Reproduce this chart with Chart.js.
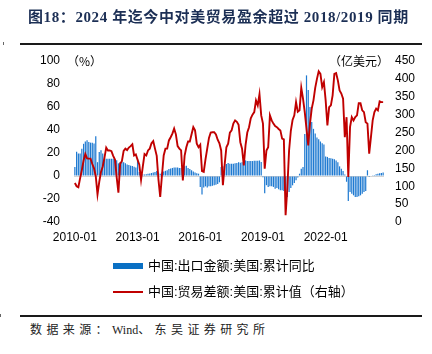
<!DOCTYPE html>
<html><head><meta charset="utf-8">
<script src="https://cdn.jsdelivr.net/npm/chart.js@4.4.1/dist/chart.umd.min.js"></script>
<style>
html,body{margin:0;padding:0;background:#fff;}
#wrap{position:relative;width:432px;height:354px;overflow:hidden;background:#fff;}
.t{position:absolute;white-space:nowrap;line-height:18px;}
#c{position:absolute;left:0;top:0;}
.r{position:absolute;}
.sp{letter-spacing:4.4px;}
</style></head><body>
<div id="wrap">
<canvas id="c" width="432" height="260"></canvas>
<div class="t" style="left:28px;top:8px;font-weight:bold;font-size:15px;font-family:'Liberation Serif','Noto Sans CJK SC';color:#1c2f55;letter-spacing:0.6px;">图18：2024 年迄今中对美贸易盈余超过 2018/2019 同期</div>
<div class="r" style="left:20px;top:43px;width:402px;height:2px;background:#1a1a1a;"></div>
<div class="r" style="left:3px;top:42px;width:1px;height:3px;background:#666;"></div>
<div class="t" style="left:67px;top:52px;font-size:12px;font-family:'Noto Sans CJK SC';color:#000;">（%）</div>
<div class="t" style="left:329px;top:52px;font-size:12px;font-family:'Noto Sans CJK SC';color:#000;">（亿美元）</div>
<div class="r" style="left:113px;top:263px;width:30px;height:6px;background:#0a70c4;"></div>
<div class="t" style="left:148px;top:257px;font-size:13px;font-family:'Liberation Sans','Noto Sans CJK SC';color:#000;">中国:出口金额:美国:累计同比</div>
<div class="r" style="left:113px;top:291px;width:30px;height:2px;background:#c00000;"></div>
<div class="t" style="left:148px;top:283px;font-size:13px;font-family:'Liberation Sans','Noto Sans CJK SC';color:#000;">中国:贸易差额:美国:累计值（右轴）</div>
<div class="r" style="left:20px;top:315px;width:402px;height:2px;background:#1a1a1a;"></div>
<div class="r" style="left:0px;top:314px;width:1px;height:3px;background:#666;"></div>
<div class="t" style="left:30px;top:321px;font-size:12px;font-family:'Liberation Serif','Noto Sans CJK SC';color:#222;"><span class="sp">数据来源：</span>Wind<span class="sp">、东吴证券研究所</span></div>
</div>
<script>
// ---- data ----
const startYear = 2010, endYear = 2024, endMonth = 10;
const categories = [];
for (let y = startYear; y <= endYear; y++) {
  for (let m = 1; m <= 12; m++) {
    if (y === endYear && m > endMonth) break;
    categories.push(y + '-' + String(m).padStart(2, '0'));
  }
}
const xTickLabels = ['2010-01', '2013-01', '2016-01', '2019-01', '2022-01'];
const leftTicks = [-40, -20, 0, 20, 40, 60, 80, 100];
const rightTicks = [0, 50, 100, 150, 200, 250, 300, 350, 400, 450];

// 中国:出口金额:美国:累计同比 (%)
const exportYoY = [
  7.8, 21, 19.5, 19.5, 23.8, 28, 30, 31, 29.6, 29, 29, 28.3,
  34.5, 12, 20.9, 22.3, 19.5, 16, 15, 15, 15, 15, 15, 14.5,
  13.8, 11, 12.2, 12.2, 12, 11, 10, 9.5, 9, 8.6, 8, 7.5,
  15, 3.5, 2, 1.3, 1.3, 1.5, 2, 2.2, 2.6, 3, 3.5, 4.3,
  3, 2, 3, 4, 4.5, 5, 6, 6.5, 7, 7.5, 7.5, 7.5,
  7, 7, 8, 8.5, 9, 7, 6, 5, 4, 3, 2.5, 2,
  -9.5, -16, -10, -9, -10, -9, -9, -8.5, -8, -7.5, -7, -5.5,
  7.8, 8.5, 10, 10.5, 11.3, 10.7, 10.7, 10.7, 11, 11.3, 12, 11.5,
  12, 12.5, 13.6, 13, 13, 13, 13, 13.2, 13.3, 13.3, 13.5, 12.2,
  -1, -15, -8, -9.6, -9, -9, -9.5, -11, -10.5, -11.5, -12.4, -12.4,
  -13, -26.3, -18.2, -13.9, -10.4, -8.1, -6, -3.8, -1.4, 2, 6.4, 7.8,
  36.5, 87.5, 74.7, 60, 47, 41, 37, 33.5, 32, 30, 28.5, 27.5,
  17, 16.6, 15.7, 15.5, 15, 14.5, 13.5, 12, 8.4, 6.4, 4.3, 1.2,
  -5, -21.7, -14, -15.4, -16.8, -18.2, -18.2, -17.5, -16.8, -15.4, -14, -13,
  5, -0.8, -0.5, 0.3, 0.8, 1.5, 2, 2.3, 2.6, 3
];
// 中国:贸易差额:美国:累计值 (亿美元, 右轴)
const tradeBalance = [
  109, 100, 97, 122, 145, 172, 190, 178, 177, 177, 162, 150,
  128, 77, 112, 140, 155, 180, 208, 200, 200, 198, 185, 175,
  125, 82, 163, 170, 199, 205, 201, 208, 212, 217, 186, 189,
  174, 160, 118, 155, 190, 186, 200, 205, 220, 226, 205, 185,
  118, 70, 130, 186, 205, 205, 228, 237, 247, 261, 245, 212,
  205, 200, 116, 185, 209, 225, 225, 245, 265, 256, 219, 209,
  216, 142, 140, 175, 205, 235, 250, 251, 251, 245, 230, 220,
  200, 103, 160, 209, 219, 250, 256, 275, 284, 280, 272, 223,
  205, 158, 215, 250, 265, 290, 300, 307, 340, 326, 357, 298,
  275, 149, 200, 209, 298, 284, 275, 268, 265, 260, 256, 233,
  231, 19, 95, 200, 255, 285, 298, 335, 308, 312, 375, 345,
  307, 261, 214, 275, 317, 340, 375, 400, 421, 414, 377, 391,
  340, 270, 321, 326, 354, 414, 416, 396, 368, 359, 345, 237,
  293, 126, 265, 293, 284, 293, 298, 332, 332, 312, 307, 279,
  275, 191, 237, 284, 307, 317, 312, 337, 335, 335
];

const tickFont = { family: "'Liberation Sans', Arial, sans-serif", size: 12 };

new Chart(document.getElementById('c'), {
  data: {
    labels: categories,
    datasets: [
      {
        type: 'line', label: '中国:贸易差额:美国:累计值（右轴）', data: tradeBalance,
        yAxisID: 'y1', borderColor: '#c00000', borderWidth: 1.9, pointRadius: 0,
        tension: 0, fill: false, order: 0
      },
      {
        type: 'bar', label: '中国:出口金额:美国:累计同比', data: exportYoY,
        yAxisID: 'y', backgroundColor: '#1f7ad1', categoryPercentage: 1.0,
        barPercentage: 0.7, order: 1
      }
    ]
  },
  options: {
    responsive: false, animation: false, devicePixelRatio: 1,
    layout: { padding: { top: 61, left: 0, right: 0, bottom: 0 } },
    plugins: { legend: { display: false }, tooltip: { enabled: false }, title: { display: false } },
    scales: {
      x: {
        type: 'category', offset: true,
        grid: { display: false, drawTicks: false }, border: { display: false },
        ticks: {
          autoSkip: false, maxRotation: 0, minRotation: 0, padding: 8, color: '#000', font: tickFont,
          callback: function (val) {
            const lab = this.getLabelForValue(val);
            return xTickLabels.includes(lab) ? lab : null;
          }
        },
        afterFit: function (s) { s.height = 38; }
      },
      y: {
        position: 'left', min: leftTicks[0], max: leftTicks[leftTicks.length - 1],
        afterBuildTicks: function (s) { s.ticks = leftTicks.map(v => ({ value: v })); },
        grid: {
          drawTicks: false, lineWidth: 1,
          color: c => (c.tick && c.tick.value === 0) ? '#d4d4d4' : 'rgba(0,0,0,0)'
        },
        border: { display: false },
        ticks: { padding: 14, color: '#000', font: tickFont },
        afterFit: function (s) { s.width = 74; }
      },
      y1: {
        position: 'right', min: rightTicks[0], max: rightTicks[rightTicks.length - 1],
        afterBuildTicks: function (s) { s.ticks = rightTicks.map(v => ({ value: v })); },
        grid: { display: false, drawTicks: false }, border: { display: false },
        ticks: { padding: 11, color: '#000', font: tickFont },
        afterFit: function (s) { s.width = 48; }
      }
    }
  }
});
</script>
</body></html>
